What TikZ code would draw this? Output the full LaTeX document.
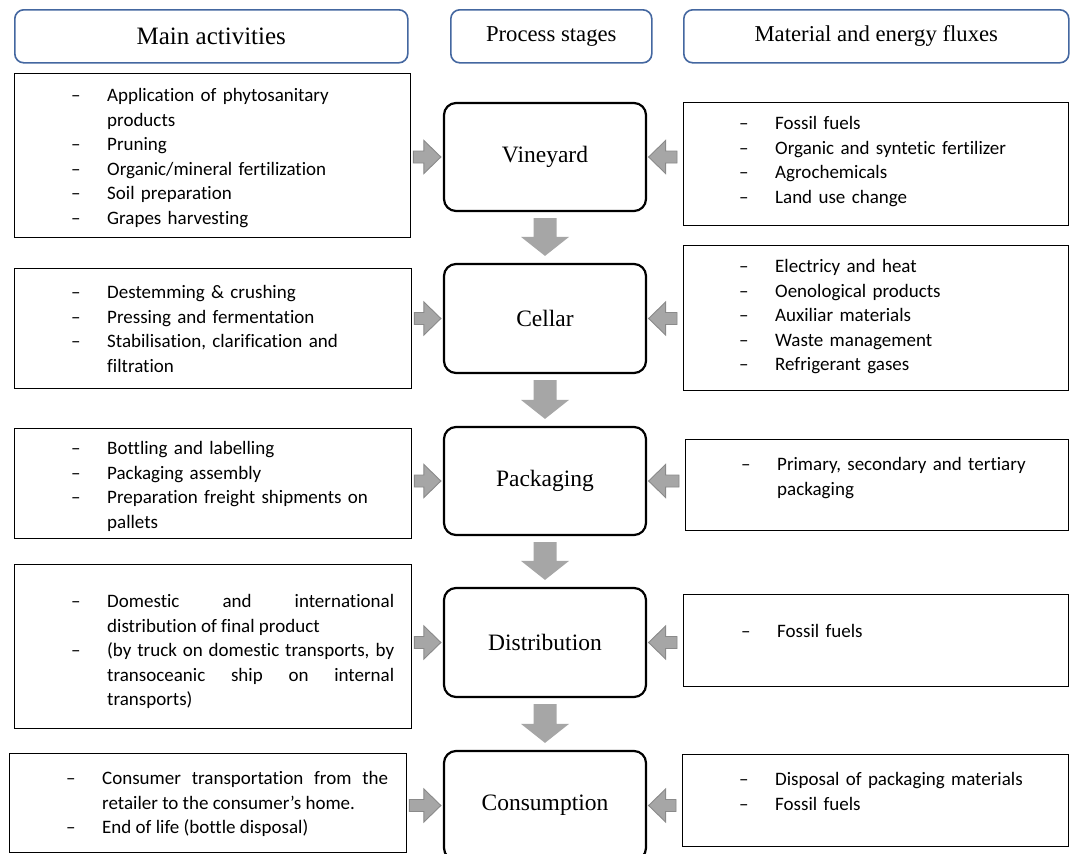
\documentclass[tikz,border=0pt]{standalone}
\usepackage{fontspec}
\setmainfont{Carlito}[Ligatures={TeX,CommonOff}]
\newfontfamily\headfont{Liberation Serif}
\usetikzlibrary{calc}

\definecolor{headblue}{RGB}{68,103,160}
\definecolor{arrowfill}{RGB}{166,166,166}
\definecolor{arrowedge}{RGB}{138,138,138}

% one dash-bulleted item with a hanging indent, closed as its own paragraph
\newlength{\itemind}
\setlength{\itemind}{36pt}
\newcommand{\itm}[1]{\hangindent=\itemind\hangafter=1\noindent\makebox[\itemind][l]{\textendash}#1\par}

\begin{document}
\begin{tikzpicture}[x=1pt,y=-1pt,
  header/.style={draw=headblue, line width=1.6pt, rounded corners=9pt,
    minimum height=53pt, anchor=north west, inner sep=0pt,
    font=\headfont\fontsize{22.7}{26}\selectfont},
  stage/.style={draw=black, line width=2.2pt, rounded corners=12pt,
    minimum width=202pt, inner sep=0pt,
    font=\headfont\fontsize{23.5}{28}\selectfont},
  listbox/.style={draw=black, line width=1.4pt, anchor=north west, inner sep=0pt},
  listtext/.style={anchor=base west, inner sep=0pt, text width=322pt, align=left,
    font=\fontsize{19}{24.6}\selectfont},
  sidearrow/.style={draw=arrowedge, fill=arrowfill, line width=0.9pt, line join=miter},
  downarrow/.style={fill=arrowfill},
  toright/.style={to path={let \p1=(\tikztostart), \p2=(\tikztotarget) in
    (\x1+2pt,\y2+6pt) -- (\x2-19pt,\y2+6pt) -- (\x2-19pt,\y2+16.5pt) -- (\x2-2pt,\y2)
    -- (\x2-19pt,\y2-16.5pt) -- (\x2-19pt,\y2-6pt) -- (\x1+2pt,\y2-6pt) -- cycle}},
  toleft/.style={to path={let \p1=(\tikztostart), \p2=(\tikztotarget) in
    (\x1-6pt,\y2+6pt) -- (\x2+18.5pt,\y2+6pt) -- (\x2+18.5pt,\y2+16.5pt) -- (\x2+1.5pt,\y2)
    -- (\x2+18.5pt,\y2-16.5pt) -- (\x2+18.5pt,\y2-6pt) -- (\x1-6pt,\y2-6pt) -- cycle}},
  todown/.style={to path={let \p1=(\tikztostart), \p2=(\tikztotarget) in
    (\x1-11.5pt,\y1-6pt) -- (\x1+11.5pt,\y1-6pt) -- (\x1+11.5pt,\y2+26pt) -- (\x1+24pt,\y2+26pt)
    -- (\x1,\y2+7pt) -- (\x1-24pt,\y2+26pt) -- (\x1-11.5pt,\y2+26pt) -- cycle}},
]
\useasboundingbox (0,0) rectangle (1072,854);
\fill[white] (0,0) rectangle (1072,854);
\clip (0,0) rectangle (1072,854);

% column headers
\node[header, minimum width=393pt, font=\headfont\fontsize{25}{29}\selectfont] (H1) at (14,9) {Main activities};
\node[header, minimum width=201pt] (H2) at (450,9) {Process stages};
\node[header, minimum width=385pt] (H3) at (683,9) {Material and energy fluxes};

% process stages
\node[stage, minimum height=108pt] (S1) at (545,157)   {Vineyard};
\node[stage, minimum height=109pt] (S2) at (545,318.5) {Cellar};
\node[stage, minimum height=108pt] (S3) at (545,481)   {Packaging};
\node[stage, minimum height=109pt] (S4) at (545,642.5) {Distribution};
\node[stage, minimum height=109pt] (S5) at (545,805.5) {Consumption};

% activity boxes (left)
\node[listbox, minimum width=396pt, minimum height=164pt] (L1) at (14,73) {};
\node[listbox, minimum width=397pt, minimum height=120pt] (L2) at (14,268) {};
\node[listbox, minimum width=397pt, minimum height=110pt] (L3) at (14,428) {};
\node[listbox, minimum width=397pt, minimum height=164pt] (L4) at (14,564) {};
\node[listbox, minimum width=397pt, minimum height=99pt]  (L5) at (9,753) {};

% flux boxes (right)
\node[listbox, minimum width=385pt, minimum height=123pt] (R1) at (683,102) {};
\node[listbox, minimum width=385pt, minimum height=145pt] (R2) at (683,245) {};
\node[listbox, minimum width=383pt, minimum height=91pt]  (R3) at (685,439) {};
\node[listbox, minimum width=385pt, minimum height=92pt]  (R4) at (683,594) {};
\node[listbox, minimum width=386pt, minimum height=92pt]  (R5) at (682,754) {};

% activity lists
\node[listtext] (TL1) at (71,101.5) {\itm{Application of phytosanitary\newline products}\itm{Pruning}\itm{Organic/mineral fertilization}\itm{Soil preparation}\itm{Grapes harvesting}};
\node[listtext] (TL2) at (71,298.5) {\itm{Destemming \& crushing}\itm{Pressing and fermentation}\itm{Stabilisation, clarification and\newline filtration}};
\node[listtext] (TL3) at (71,454.5) {\itm{Bottling and labelling}\itm{Packaging assembly}\itm{Preparation freight shipments on\newline pallets}};
\node[listtext, text width=323pt, align=justify] (TL4) at (71,607.5) {\itm{Domestic and international\linebreak distribution of final product}\itm{(by truck on domestic transports, by\linebreak transoceanic ship on internal\linebreak transports)}};
\node[listtext, text width=322pt, align=justify] (TL5) at (66,784.5) {\itm{Consumer transportation from the\linebreak retailer to the consumer’s home.}\itm{End of life (bottle disposal)}};

% flux lists
\node[listtext] (TR1) at (739,129.5) {\itm{Fossil fuels}\itm{Organic and syntetic fertilizer}\itm{Agrochemicals}\itm{Land use change}};
\node[listtext] (TR2) at (739,272.5) {\itm{Electricy and heat}\itm{Oenological products}\itm{Auxiliar materials}\itm{Waste management}\itm{Refrigerant gases}};
\node[listtext] (TR3) at (741,470.5) {\itm{Primary, secondary and tertiary\newline packaging}};
\node[listtext] (TR4) at (741,637.5) {\itm{Fossil fuels}};
\node[listtext] (TR5) at (739,785.5) {\itm{Disposal of packaging materials}\itm{Fossil fuels}};

% activities feeding each stage
\path[sidearrow] (L1.east) to[toright] (S1.west);
\path[sidearrow] (L2.east) to[toright] (S2.west);
\path[sidearrow] (L3.east) to[toright] (S3.west);
\path[sidearrow] (L4.east) to[toright] (S4.west);
\path[sidearrow] (L5.east) to[toright] (S5.west);

% fluxes feeding each stage
\path[sidearrow] (R1.west) to[toleft] (S1.east);
\path[sidearrow] (R2.west) to[toleft] (S2.east);
\path[sidearrow] (R3.west) to[toleft] (S3.east);
\path[sidearrow] (R4.west) to[toleft] (S4.east);
\path[sidearrow] (R5.west) to[toleft] (S5.east);

% stage sequence
\path[downarrow] (S1.south) to[todown] (S2.north);
\path[downarrow] (S2.south) to[todown] (S3.north);
\path[downarrow] (S3.south) to[todown] (S4.north);
\path[downarrow] (S4.south) to[todown] (S5.north);
\end{tikzpicture}
\end{document}
